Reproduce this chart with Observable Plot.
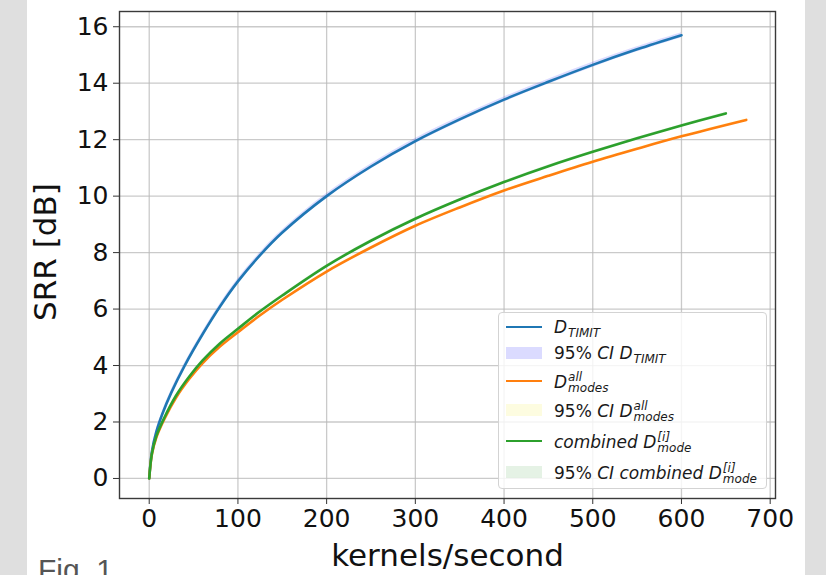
<!DOCTYPE html>
<html>
<head>
<meta charset="utf-8">
<script src="https://cdn.jsdelivr.net/npm/d3@7"></script>
<script src="https://cdn.jsdelivr.net/npm/@observablehq/plot@0.6"></script>
<style>
  html, body { margin: 0; padding: 0; }
  body { width: 826px; height: 575px; position: relative; overflow: hidden; background: #fff; font-family: "DejaVu Sans", sans-serif; }
  .band { position: absolute; top: 0; height: 575px; background: #dfdfdf; }
  #chart { position: absolute; left: 0; top: 0; }
  #fig { position: absolute; left: 38px; top: 555px; font-family: "Liberation Sans", Arial, sans-serif; font-size: 30px; line-height: 1; color: #555; }
  #legend { position: absolute; left: 498px; top: 312px; width: 269px; height: 177px; box-sizing: border-box;
            border: 1px solid #d3d3d3; border-radius: 4px; background: rgba(255,255,255,0.8); }
  .hl { position: absolute; left: 7px; width: 36px; height: 2.5px; }
  .hp { position: absolute; left: 7px; width: 36px; height: 12px; }
  .lab { position: absolute; left: 55px; white-space: nowrap; font-size: 17px; color: #1a1a1a; line-height: 18px; }
  .it { font-style: italic; }
  .sb { font-size: 12px; font-style: italic; position: relative; top: 4px; margin-left: 1px; }
  .ss { display: inline-flex; flex-direction: column; vertical-align: 7px; font-size: 12px; font-style: italic; line-height: 11px; margin-left: 1px; }
</style>
</head>
<body>
<div class="band" style="left:0;width:27px"></div>
<div class="band" style="left:805px;width:21px"></div>
<div id="chart"></div>
<div id="legend"></div>
<div id="fig">Fig. 1</div>
<script>
// ---- data ----
const timitX = [0, 3, 8, 15, 25, 40, 60, 80, 100, 125, 150, 200, 250, 300, 350, 400, 450, 500, 550, 600];
const timitY = [0, 0.95, 1.65, 2.3, 3.05, 4.0, 5.1, 6.1, 6.98, 7.91, 8.71, 10.0, 11.05, 11.95, 12.72, 13.42, 14.05, 14.65, 15.2, 15.7];
const allX   = [0, 3, 8, 17, 30, 45, 60, 80, 100, 125, 150, 200, 250, 300, 350, 400, 450, 500, 550, 600, 673];
const allY   = [0, 0.85, 1.45, 2.1, 2.85, 3.52, 4.08, 4.68, 5.18, 5.78, 6.33, 7.33, 8.18, 8.95, 9.6, 10.2, 10.72, 11.22, 11.68, 12.12, 12.7];
const combX  = [0, 3, 8, 17, 30, 45, 60, 80, 100, 125, 150, 200, 250, 300, 350, 400, 450, 500, 550, 600, 650];
const combY  = [0, 0.87, 1.5, 2.15, 2.92, 3.6, 4.17, 4.79, 5.3, 5.92, 6.48, 7.53, 8.42, 9.2, 9.88, 10.5, 11.06, 11.57, 12.05, 12.5, 12.93];
const ciHalf = { timit: 0.09, all: 0.04, comb: 0.04 };   // half-width of 95% CI bands
const xTicks = [0, 100, 200, 300, 400, 500, 600, 700];
const yTicks = [0, 2, 4, 6, 8, 10, 12, 14, 16];
const colors = { timit: "#1f77b4", all: "#ff7f0e", comb: "#2ca02c" };
const ciColors = { timit: ["blue", 0.14], all: ["#ffff00", 0.12], comb: ["green", 0.1] };

const mk = (xs, ys, h) => xs.map((x, i) => ({ x, y: ys[i], lo: ys[i] - h, hi: ys[i] + h }));
const series = {
  timit: mk(timitX, timitY, ciHalf.timit),
  all: mk(allX, allY, ciHalf.all),
  comb: mk(combX, combY, ciHalf.comb)
};

const marks = [
  Plot.gridX(xTicks, { stroke: "#b8b8b8", strokeOpacity: 0.75, strokeWidth: 1.3 }),
  Plot.gridY(yTicks, { stroke: "#b8b8b8", strokeOpacity: 0.75, strokeWidth: 1.3 })
];
for (const k of ["timit", "all", "comb"]) {
  marks.push(Plot.areaY(series[k], { x: "x", y1: "lo", y2: "hi", fill: ciColors[k][0], fillOpacity: ciColors[k][1], curve: "catmull-rom" }));
}
for (const k of ["timit", "all", "comb"]) {
  marks.push(Plot.line(series[k], { x: "x", y: "y", stroke: colors[k], strokeWidth: 2.6, curve: "catmull-rom" }));
}
marks.push(
  Plot.frame({ stroke: "#3a3a3a", strokeWidth: 1.4 }),
  Plot.axisX(xTicks, { tickSize: 6, tickPadding: 5, fontSize: 25, label: null, stroke: "#333" }),
  Plot.axisY(yTicks, { tickSize: 6, tickPadding: 5, fontSize: 25, label: null, stroke: "#333" }),
  Plot.text(["kernels/second"], { frameAnchor: "bottom", textAnchor: "middle", lineAnchor: "middle", dy: 58, fontSize: 31, fill: "#111" }),
  Plot.text(["SRR [dB]"], { frameAnchor: "left", textAnchor: "middle", lineAnchor: "middle", rotate: -90, dx: -73, dy: -3, fontSize: 31, fill: "#111" })
);

const chart = Plot.plot({
  width: 826, height: 575,
  marginLeft: 119, marginRight: 51, marginTop: 11, marginBottom: 77,
  x: { domain: [-33.5, 706] },
  y: { domain: [-0.71, 16.54] },
  style: { background: "transparent", fontFamily: "DejaVu Sans", color: "#111", overflow: "visible" },
  marks
});
document.getElementById("chart").append(chart);

// ---- legend ----
const legendRows = [
  { kind: "line", color: colors.timit, html: '<span class="it">D</span><span class="sb">TIMIT</span>' },
  { kind: "patch", color: "rgba(0,0,255,0.14)", html: '95% <span class="it">CI D</span><span class="sb">TIMIT</span>' },
  { kind: "line", color: colors.all, html: '<span class="it">D</span><span class="ss"><span>all</span><span>modes</span></span>' },
  { kind: "patch", color: "rgba(240,230,0,0.12)", html: '95% <span class="it">CI D</span><span class="ss"><span>all</span><span>modes</span></span>' },
  { kind: "line", color: colors.comb, html: '<span class="it">combined D</span><span class="ss"><span>[<i>i</i>]</span><span>mode</span></span>' },
  { kind: "patch", color: "rgba(0,128,0,0.1)", html: '95% <span class="it">CI combined D</span><span class="ss"><span>[<i>i</i>]</span><span>mode</span></span>' }
];
const rowCenters = [14, 40, 68, 97, 128, 159];
const leg = document.getElementById("legend");
legendRows.forEach((r, i) => {
  const c = rowCenters[i];
  const h = document.createElement("div");
  h.className = r.kind === "line" ? "hl" : "hp";
  h.style.background = r.color;
  h.style.top = (c - (r.kind === "line" ? 1.25 : 6)) + "px";
  leg.appendChild(h);
  const t = document.createElement("div");
  t.className = "lab";
  t.innerHTML = r.html;
  t.style.top = (c - 9) + "px";
  leg.appendChild(t);
});
</script>
</body>
</html>
